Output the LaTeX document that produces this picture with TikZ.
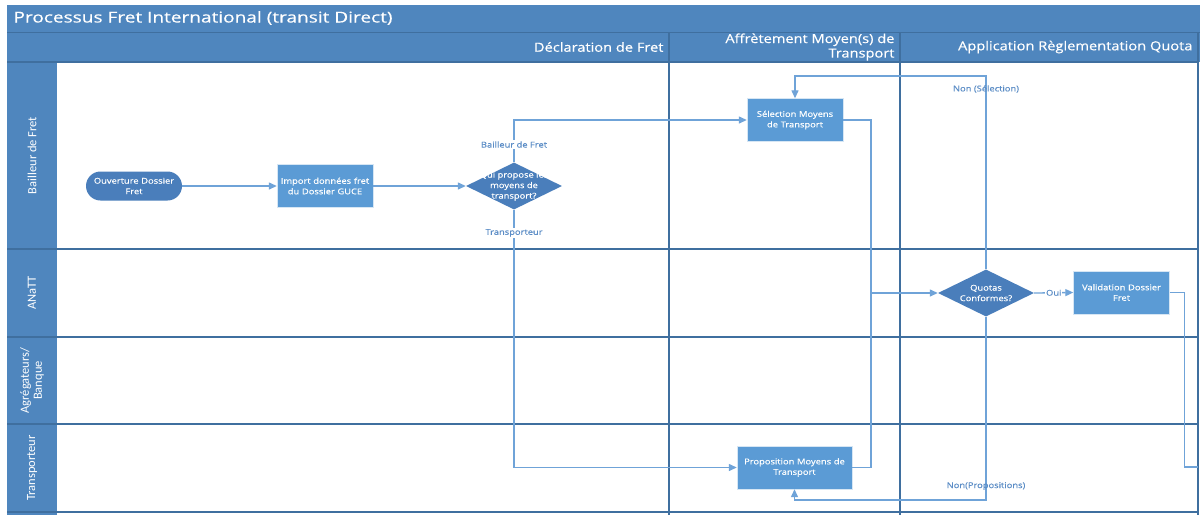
\documentclass[tikz,border=0pt]{standalone}
\usepackage{fontspec}
\setmainfont{Open Sans}[FakeStretch=1.17, FakeBold=0.4]
\newfontfamily\titlefont{Open Sans}[FakeStretch=1.27, FakeBold=0.4]
\newfontfamily\lanefont{Carlito}
\usetikzlibrary{shapes.geometric, arrows.meta, positioning, calc}
\definecolor{laneblue}{HTML}{4F86BE}
\definecolor{gridblue}{HTML}{3F6F9F}
\definecolor{taskblue}{HTML}{5B9BD5}
\definecolor{decideblue}{HTML}{4A7EBB}
\definecolor{flowblue}{HTML}{6FA3D8}
\definecolor{labelblue}{HTML}{5A8CC6}

\begin{document}
\begin{tikzpicture}[x=1pt, y=-1pt,
  task/.style={rectangle, fill=taskblue, draw=white!75!taskblue, minimum width=96pt, minimum height=43pt, text width=94pt, align=center, text=white, inner sep=0pt, font=\fontsize{8}{10.5}\selectfont},
  terminal/.style={rectangle, rounded corners=14.5pt, fill=decideblue, minimum width=96pt, minimum height=29pt, text width=94pt, align=center, text=white, inner sep=0pt, font=\fontsize{8}{10.5}\selectfont},
  decision/.style={diamond, aspect=2, fill=decideblue, minimum width=96pt, minimum height=47pt, inner sep=0pt},
  flow/.style={flowblue, line width=1.3pt},
  tip/.style={-{Triangle[length=8pt,width=7pt]}},
  flowlabel/.style={labelblue, font=\fontsize{8}{9}\selectfont, inner sep=1pt},
  lanetitle/.style={white, rotate=90, align=center, font=\lanefont\fontsize{12.5}{13}\selectfont},
  colhead/.style={white, anchor=east, align=right, font=\fontsize{12.5}{14.5}\selectfont}]

  % Background and bounding box
  \fill[white] (0,0) rectangle (1200,515);
  \useasboundingbox (0,0) rectangle (1200,515);

  % Title bar and header row
  \fill[laneblue] (7,5) rectangle (1200,62);
  \draw[gridblue, line width=1pt] (7,32) -- (1200,32);
  \node[white, anchor=west, font=\titlefont\fontsize{15}{16}\selectfont] (title) at (10,18) {Processus Fret International (transit Direct)};

  % Column headers
  \node[colhead] (col1) at (667,47) {Déclaration de Fret};
  \node[colhead] (col2) at (898,47) {Affrètement Moyen(s) de\\Transport};
  \node[colhead] (col3) at (1196,47) {Application Règlementation Quota};

  % Lane header column
  \fill[laneblue] (7,62) rectangle (57,515);
  \foreach \y in {62,249,337,424,512} {
    \draw[gridblue, line width=1.2pt] (7,\y) -- (1198,\y);
  }
  \foreach \x in {669,900,1198} {
    \draw[gridblue, line width=1.1pt] (\x,32) -- (\x,515);
  }
  \foreach \yc/\name [count=\i] in {155.5/Bailleur de Fret, 293/ANaTT, 380.5/{Agrégateurs/\\Banque}, 468/Transporteur} {
    \node[lanetitle] (lane\i) at (32,\yc) {\name};
  }

  % Steps
  \node[terminal] (ouverture) at (134,186) {Ouverture Dossier\\Fret};
  \node[task] (import) at (325,186) {Import données fret\\du Dossier GUCE};
  \node[decision, label={[white, align=center, font=\fontsize{8}{10.5}\selectfont]center:Qui propose les\\moyens de\\transport?}] (qui) at (514,186) {};
  \node[task] (selection) at (795,120) {Sélection Moyens\\de Transport};
  \node[task, minimum width=115pt, text width=113pt] (proposition) at (794.5,467.5) {Proposition Moyens de\\Transport};
  \node[decision, label={[white, align=center, font=\fontsize{8}{10.5}\selectfont]center:Quotas\\Conformes?}] (quotas) at (986,293) {};
  \node[task] (validation) at (1121.5,292.5) {Validation Dossier\\Fret};

  % Bends
  \coordinate (join) at (871,293);
  \coordinate (topbend) at (986,76);
  \coordinate (botbend) at (986,500);
  \coordinate (exit) at (1198,467);

  % Connectors
  \draw[flow, tip] (ouverture) -- (import);
  \draw[flow, tip] (import) -- (qui);
  \draw[flow, tip] (qui.north) |- node[flowlabel, fill=white, pos=0.21] {Bailleur de Fret} (selection.west);
  \draw[flow, tip] (qui.south) |- node[flowlabel, fill=white, pos=0.045] {Transporteur} (proposition.west);
  \draw[flow] (selection.east) -| (join);
  \draw[flow] (proposition.east) -| (join);
  \draw[flow, tip] (join) -- (quotas.west);
  \draw[flow, tip] (quotas.east) -- node[flowlabel, fill=white, pos=0.5] {Oui} (validation.west);
  \draw[flow, tip] (quotas.north) -- node[flowlabel, pos=0.933] {Non (Sélection)} (topbend) -| (selection.north);
  \draw[flow, tip] (quotas.south) -- node[flowlabel, pos=0.924] {Non(Propositions)} (botbend) -| (proposition.south);
  \draw[flow] (validation.east) -- ++(15,0) |- (exit);
\end{tikzpicture}
\end{document}
